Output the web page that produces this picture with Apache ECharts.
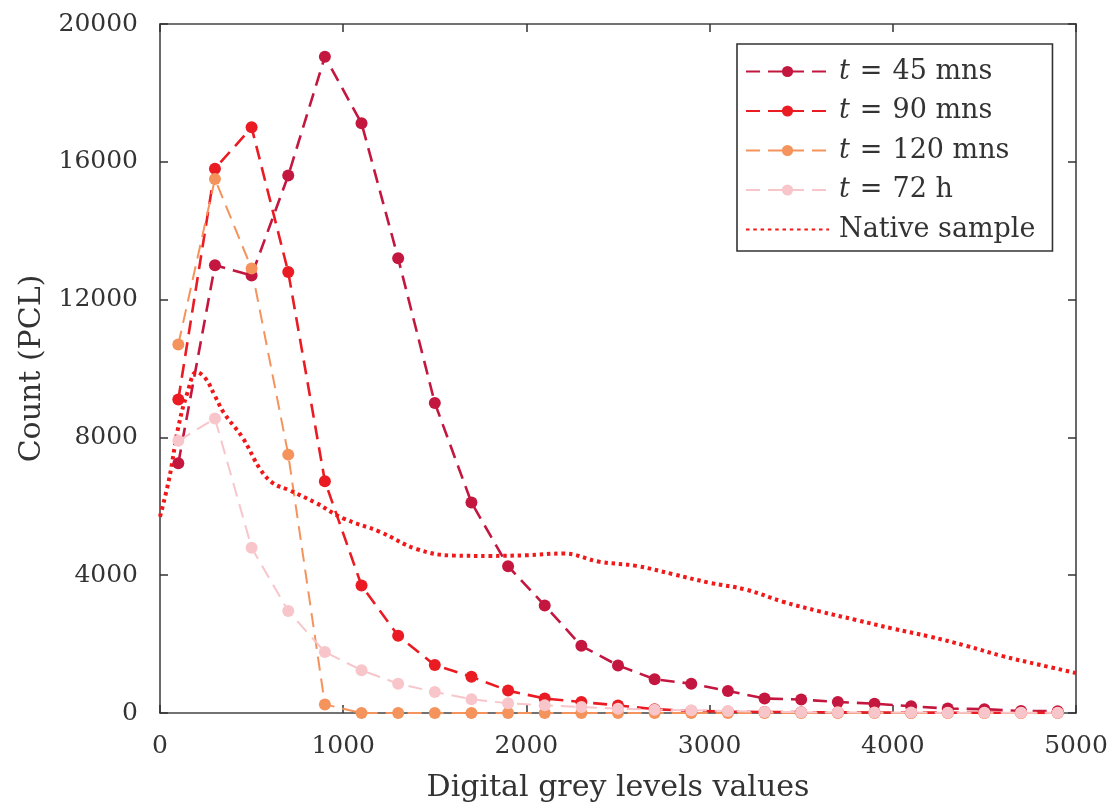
<!DOCTYPE html>
<html>
<head>
<meta charset="utf-8">
<script src="https://cdn.jsdelivr.net/npm/echarts@6/dist/echarts.min.js"></script>
<style>
html,body{margin:0;padding:0;background:#fff;}
#chart{width:1116px;height:809px;}
</style>
</head>
<body>
<div id="chart"></div>
<script>
// ---- data ----
const xPoints = [100, 300, 500, 700, 900, 1100, 1300, 1500, 1700, 1900, 2100, 2300, 2500, 2700, 2900, 3100, 3300, 3500, 3700, 3900, 4100, 4300, 4500, 4700, 4900];
const t45 = [7250, 13000, 12700, 15600, 19050, 17120, 13200, 9000, 6110, 4260, 3120, 1950, 1380, 980, 850, 640, 420, 390, 320, 270, 195, 130, 110, 60, 50];
const t90 = [9100, 15800, 17000, 12800, 6730, 3700, 2240, 1390, 1050, 650, 420, 320, 220, 110, 60, 40, 30, 25, 20, 15, 10, 10, 8, 5, 5];
const t120 = [10700, 15500, 12900, 7500, 250, 0, 0, 0, 0, 0, 0, 0, 0, 0, 0, 0, 0, 0, 0, 0, 0, 0, 0, 0, 0];
const t72h = [7900, 8550, 4800, 2960, 1770, 1240, 850, 610, 400, 280, 224, 174, 126, 97, 78, 58, 30, 25, 20, 15, 12, 10, 8, 6, 5];
const nativeX = [0, 50, 100, 150, 200, 250, 300, 350, 450, 550, 620, 700, 850, 1000, 1200, 1400, 1600, 1800, 2000, 2200, 2400, 2600, 2800, 3000, 3200, 3400, 3600, 3800, 4000, 4200, 4400, 4600, 4800, 5000];
const nativeY = [5700, 6800, 8300, 9300, 9900, 9700, 9200, 8700, 8000, 7050, 6660, 6480, 6100, 5650, 5260, 4760, 4570, 4560, 4580, 4630, 4390, 4270, 4030, 3780, 3580, 3230, 2950, 2700, 2450, 2220, 1950, 1650, 1400, 1160];
const seriesNames = ['t = 45 mns', 't = 90 mns', 't = 120 mns', 't = 72 h', 'Native sample'];
const xTicks = [0, 1000, 2000, 3000, 4000, 5000];
const yTicks = [0, 4000, 8000, 12000, 16000, 20000];

const colors = ['#C4173F', '#EA1B22', '#F4935C', '#F8C6CA', '#F01818'];
const FONT = 'DejaVu Serif';

function pairs(xs, ys) { return xs.map((x, i) => [x, ys[i]]); }

function markerSeries(name, ys, color, width, dash) {
  return {
    name: name, type: 'line', xAxisIndex: 0, yAxisIndex: 0,
    data: pairs(xPoints, ys),
    symbol: 'circle', symbolSize: 12, showSymbol: true,
    lineStyle: { color: color, width: width, type: dash },
    itemStyle: { color: color },
    emphasis: { disabled: true },
    animation: false
  };
}

function axisCommon() {
  return {
    axisLine: { show: true, onZero: false, lineStyle: { color: '#444', width: 1.6 } },
    axisTick: { show: true, inside: true, length: 8, lineStyle: { color: '#333', width: 1.5 } },
    splitLine: { show: false }
  };
}
const plain = v => String(v);

const option = {
  backgroundColor: '#fff',
  animation: false,
  grid: { left: 160, right: 40, top: 24, bottom: 96, containLabel: false },
  xAxis: [
    Object.assign({
      type: 'value', min: xTicks[0], max: xTicks[xTicks.length - 1], interval: 1000, position: 'bottom',
      name: 'Digital grey levels values', nameLocation: 'middle', nameGap: 60,
      nameTextStyle: { fontFamily: FONT, fontSize: 30, color: '#333' },
      axisLabel: { fontFamily: FONT, fontSize: 25, color: '#333', margin: 21, formatter: plain }
    }, axisCommon()),
    Object.assign({
      type: 'value', min: xTicks[0], max: xTicks[xTicks.length - 1], interval: 1000, position: 'top',
      axisLabel: { show: false }
    }, axisCommon())
  ],
  yAxis: [
    Object.assign({
      type: 'value', min: yTicks[0], max: yTicks[yTicks.length - 1], interval: 4000, position: 'left',
      name: 'Count (PCL)', nameLocation: 'middle', nameGap: 107, nameRotate: 90,
      nameTextStyle: { fontFamily: FONT, fontSize: 30, color: '#333' },
      axisLabel: { fontFamily: FONT, fontSize: 25, color: '#333', margin: 22, formatter: plain }
    }, axisCommon()),
    Object.assign({
      type: 'value', min: yTicks[0], max: yTicks[yTicks.length - 1], interval: 4000, position: 'right',
      axisLabel: { show: false }
    }, axisCommon())
  ],
  legend: {
    orient: 'vertical', left: 737, top: 44,
    data: [seriesNames[0], seriesNames[1], seriesNames[2], seriesNames[3],
      { name: seriesNames[4], itemStyle: { opacity: 0 } }],
    itemWidth: 83, itemHeight: 14, itemGap: 12.5,
    padding: [14, 17, 8, 8],
    backgroundColor: '#fff', borderColor: '#333', borderWidth: 1.6, borderRadius: 0,
    selectedMode: false,
    formatter: function (name) {
      if (name.charAt(0) === 't') {
        const rest = name.slice(1).replace('=', '').trim();
        return '{it|t}{eq|=}{n|' + rest + '}';
      }
      return '{n|' + name + '}';
    },
    textStyle: {
      fontFamily: FONT, fontSize: 27, color: '#333', padding: [0, 0, 0, 5],
      rich: {
        it: { fontFamily: FONT, fontStyle: 'italic', fontSize: 27, color: '#333', lineHeight: 30 },
        eq: { fontFamily: FONT, fontSize: 27, color: '#333', lineHeight: 30, padding: [0, 10, 0, 10] },
        n: { fontFamily: FONT, fontSize: 27, color: '#333', lineHeight: 30 }
      }
    }
  },
  series: [
    markerSeries(seriesNames[0], t45, colors[0], 2.6, [14, 8]),
    markerSeries(seriesNames[1], t90, colors[1], 2.6, [14, 8]),
    markerSeries(seriesNames[2], t120, colors[2], 2, [14, 8]),
    markerSeries(seriesNames[3], t72h, colors[3], 2, [14, 8]),
    {
      name: seriesNames[4], type: 'line', xAxisIndex: 0, yAxisIndex: 0,
      data: pairs(nativeX, nativeY),
      symbol: 'none', showSymbol: false, smooth: 0.4,
      lineStyle: { color: colors[4], width: 4, type: [3.5, 3.8], cap: 'butt' },
      itemStyle: { color: colors[4] },
      emphasis: { disabled: true },
      animation: false
    }
  ]
};

const chart = echarts.init(document.getElementById('chart'), null, { renderer: 'canvas' });
chart.setOption(option);
</script>
</body>
</html>
